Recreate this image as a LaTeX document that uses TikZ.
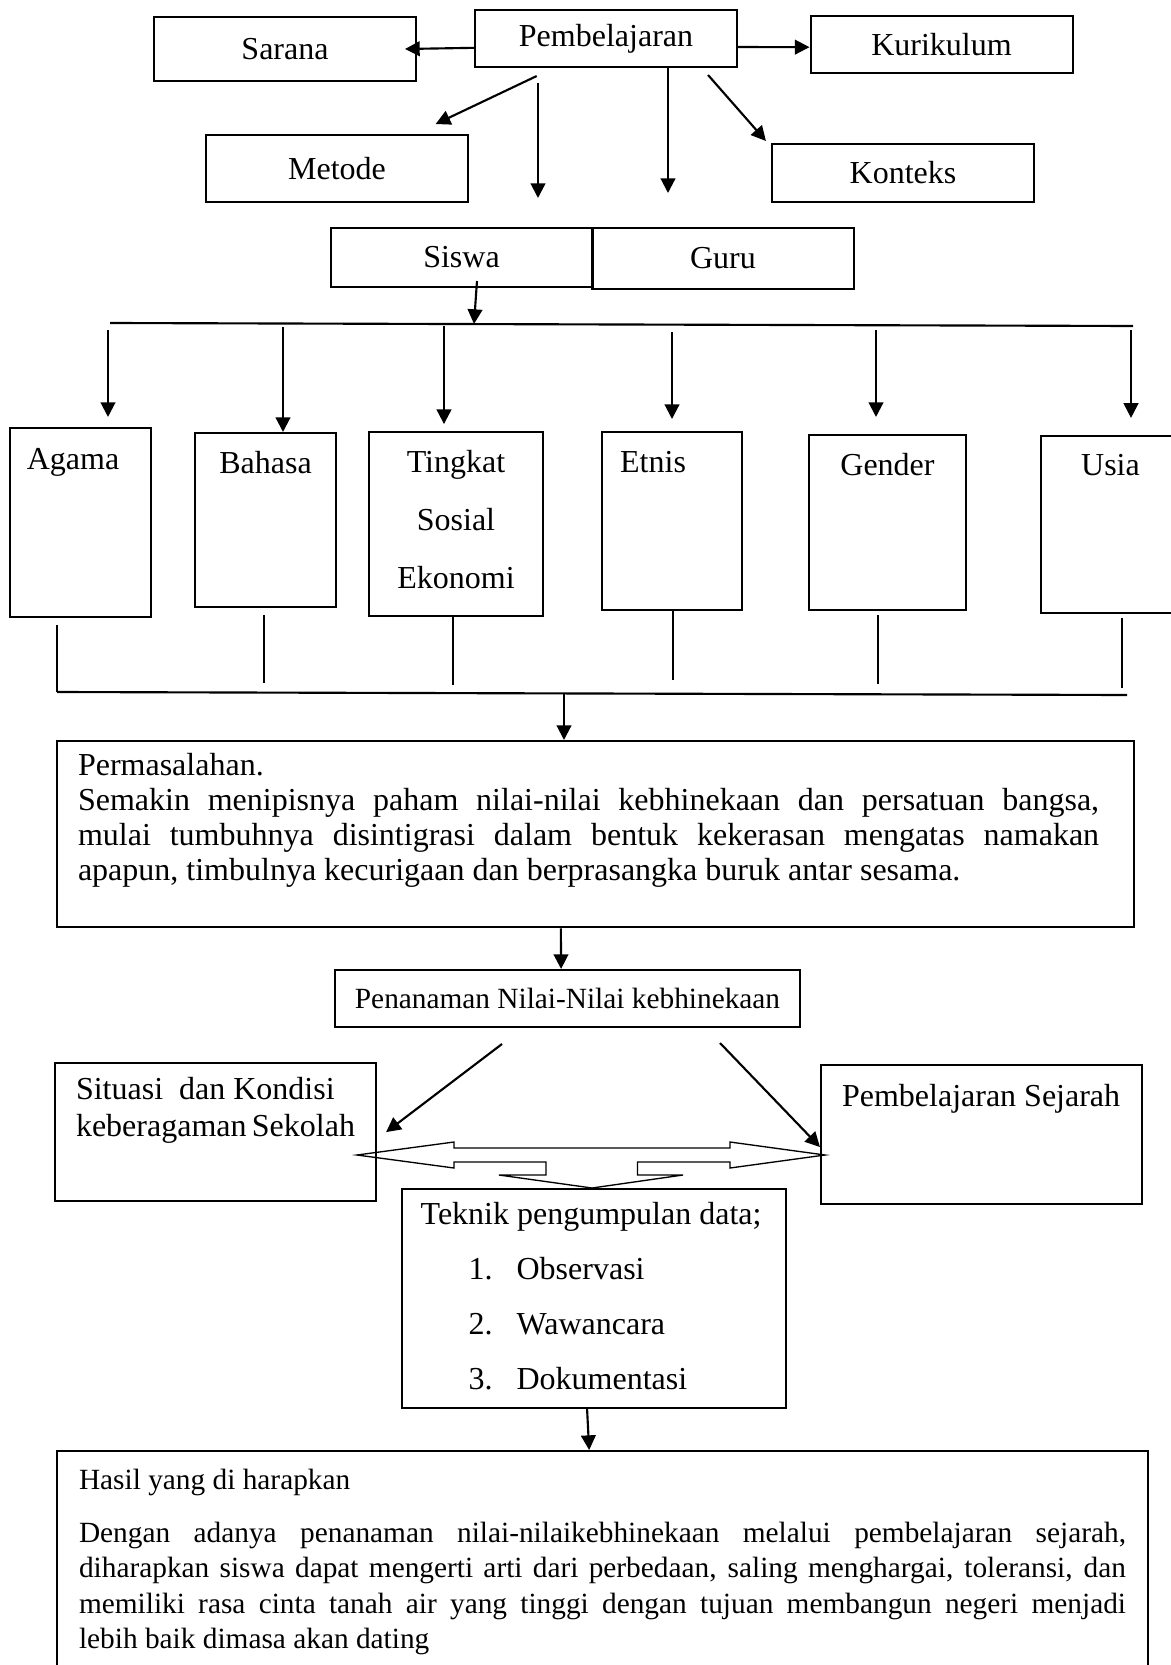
\documentclass[tikz,border=0pt]{standalone}
\usepackage{fontspec}
\setmainfont{Liberation Serif}
\usepackage{tikz}
\usetikzlibrary{arrows.meta, positioning}
\tolerance=9999
\hbadness=10000
\hfuzz=5pt
\newcommand{\tekitem}[2]{\hspace*{18pt}\makebox[18pt][l]{#1.}#2}

\begin{document}
\begin{tikzpicture}[
  x=0.375pt, y=-0.375pt,
  topbox/.style={
    rectangle, draw=black, line width=0.75pt, inner sep=0pt,
    minimum width=98.25pt, minimum height=#1,
    font=\fontsize{12}{14}\selectfont
  },
  topbox/.default=21.75pt,
  catbox/.style 2 args={
    rectangle, draw=black, line width=0.75pt, inner sep=0pt,
    minimum width=#1, minimum height=#2
  },
  catlabel/.style={
    anchor=north, yshift=-3.2pt, align=center, inner sep=4pt,
    font=\fontsize{12}{21.6}\selectfont
  },
  textbox/.style={
    rectangle, draw=black, line width=0.75pt, anchor=north,
    inner xsep=7.9pt, font=\fontsize{12}{#1}\selectfont
  },
  arrow/.style={-{Triangle[length=5.5pt, width=5.5pt]}, line width=0.8pt},
  busline/.style={line width=0.8pt},
  hollow/.style={line width=0.5pt, line join=miter}
]
\useasboundingbox (0,0) rectangle (1170,1665);

\node[topbox=24pt] (sarana) at (285,49) {Sarana};
\node[topbox=21.4pt] (pemb) at (606,38.5) {Pembelajaran};
\node[topbox=21.4pt] (kurikulum) at (941.5,44.5) {Kurikulum};
\node[topbox=25.1pt] (metode) at (337,168.5) {Metode};
\node[topbox] (konteks) at (903,173) {Konteks};
\node[topbox=22.1pt] (siswa) at (461.5,257.5) {Siswa};
\node[topbox=22.9pt] (guru) at (723,258.5) {Guru};

\node[catbox={52.9pt}{70.9pt}, label={[catlabel, xshift=-2.8pt, yshift=-0.8pt]north:Agama}] (agama) at (80.5,522.5) {};
\node[catbox={52.9pt}{65.25pt}, label={[catlabel]north:Bahasa}] (bahasa) at (265.5,520) {};
\node[catbox={65.25pt}{69pt}, label={[catlabel]north:Tingkat\\Sosial\\Ekonomi}] (tingkat) at (456,524) {};
\node[catbox={52.5pt}{66.75pt}, label={[catlabel, xshift=-7.1pt, yshift=-0.4pt]north:Etnis}] (etnis) at (672,521) {};
\node[catbox={58.9pt}{65.6pt}, label={[catlabel]north:Gender}] (gender) at (887.5,522.5) {};
\node[catbox={52.1pt}{66.4pt}, label={[catlabel]north:Usia}] (usia) at (1110.5,524.5) {};

\node[textbox=13.1, inner ysep=4.5pt] (perm) at (595.5,740) {\parbox{382.9pt}{%
  Permasalahan.\\
  Semakin menipisnya paham nilai-nilai kebhinekaan dan persatuan bangsa,\linebreak
  mulai tumbuhnya disintigrasi dalam bentuk kekerasan mengatas namakan\linebreak
  apapun, timbulnya kecurigaan dan berprasangka buruk antar sesama.\rule[-13.25pt]{0pt}{0pt}}\hspace*{5.2pt}};
\node[topbox=21.4pt, minimum width=174.4pt, font=\fontsize{11}{13}\selectfont] (nilai) at (567.5,998.5) {Penanaman Nilai-Nilai kebhinekaan};
\node[textbox=13.9, text width=104.6pt, inner ysep=5.25pt, align=flush left] (situasi) at (215.5,1062) {Situasi\ \ dan Kondisi\\keberagaman~Sekolah\rule[-19.1pt]{0pt}{0pt}};
\node[textbox=14, text width=104.6pt, inner ysep=7.1pt, align=flush left] (sejarah) at (981.5,1064) {Pembelajaran~Sejarah\rule[-29.6pt]{0pt}{0pt}};
\node[textbox=20.6, text width=130pt, inner xsep=7pt, inner ysep=4.9pt, align=flush left] (teknik) at (594,1188) {Teknik~pengumpulan~data;\\
  \tekitem{1}{Observasi}\\
  \tekitem{2}{Wawancara}\\
  \tekitem{3}{Dokumentasi}\rule[-2.2pt]{0pt}{0pt}};
\node[textbox, font=\fontsize{11}{13.3}\selectfont, text width=392.6pt, inner xsep=8.25pt, inner ysep=6.75pt, align=justify] (hasil) at (602.5,1450) {Hasil yang di harapkan\\[6.6pt]
  Dengan adanya penanaman nilai-nilaikebhinekaan melalui pembelajaran sejarah,\linebreak
  diharapkan siswa dapat mengerti arti dari perbedaan, saling menghargai, toleransi, dan\linebreak
  memiliki rasa cinta tanah air yang tinggi dengan tujuan membangun negeri menjadi\linebreak
  lebih baik dimasa akan dating\rule[-2.4pt]{0pt}{0pt}};

\coordinate (siswa-top) at (538,198);
\coordinate (guru-top) at (668,193);
\coordinate (bus-in) at (474,324);
\coordinate (bus-tl) at (110,323);
\coordinate (bus-tr) at (1133,326);
\coordinate (bus-bl) at (57,692);
\coordinate (bus-br) at (1127,695);
\coordinate (bus-out) at (564,694);
\coordinate (nilai-l) at (502,1044);
\coordinate (nilai-r) at (720,1043);

\draw[arrow] ([yshift=-3.5pt]pemb.west) -- ([xshift=-4.5pt]sarana.east);
\draw[arrow] ([yshift=-3.2pt]pemb.east) -- ([yshift=-1pt]kurikulum.west);
\draw[arrow] ([xshift=-26pt,yshift=-3pt]pemb.south) -- ([xshift=37pt,yshift=3.75pt]metode.north);
\draw[arrow] ([xshift=-25.5pt,yshift=-5.6pt]pemb.south) -- (siswa-top);
\draw[arrow] ([xshift=23.25pt]pemb.south) -- (guru-top);
\draw[arrow] ([xshift=-11.25pt,yshift=-2.6pt]pemb.south east) -- ([xshift=-1.9pt,yshift=0.75pt]konteks.north west);

\draw[arrow] ([xshift=5.8pt,yshift=2.6pt]siswa.south) -- (bus-in);
\draw[busline] (bus-tl) -- (bus-tr);
\foreach \cat/\xs/\ys/\g in {agama/108/330/3.75, bahasa/283/327/0, tingkat/444/326/2.6, etnis/672/332/4.5, gender/876/330/6.4, usia/1131/330/6.4}{
  \coordinate (\cat-in) at (\xs,\ys);
  \draw[arrow, shorten >=\g pt] (\cat-in) -- (\cat.north -| \cat-in);
}
\foreach \cat/\xo/\yo/\g in {agama/57/692/2.6, bahasa/264/683/2.6, tingkat/453/685/0, etnis/673/680/0, gender/878/684/1.5, usia/1122/688/1.5}{
  \coordinate (\cat-out) at (\xo,\yo);
  \draw[busline, shorten <=\g pt] (\cat.south -| \cat-out) -- (\cat-out);
}
\draw[busline] (bus-bl) -- (bus-br);
\draw[arrow] (bus-out) -- (bus-out |- perm.north);

\draw[arrow] ([xshift=-13pt]perm.south) -- ([xshift=-2.4pt]nilai.north);
\draw[arrow] (nilai-l) -- ([xshift=3.4pt]situasi.east);
\draw[arrow] (nilai-r) -- ([yshift=-4.7pt]sejarah.west);

\draw[hollow] (357,1155) -- (454,1142) -- (454,1148) -- (730,1148) -- (730,1142)
  -- (825,1155) -- (730,1168) -- (730,1162) -- (637.5,1162) -- (637.5,1175)
  -- (683,1175) -- (592,1188) -- (499,1175) -- (546,1175) -- (546,1162)
  -- (454,1162) -- (454,1168) -- cycle;

\draw[arrow] ([xshift=-2.6pt]teknik.south) -- ([xshift=-5pt]hasil.north);

\end{tikzpicture}
\end{document}
